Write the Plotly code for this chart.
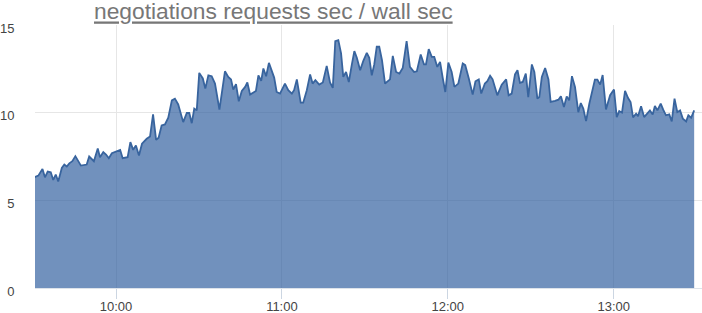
import pandas as pd
import plotly.graph_objects as go

# minutes after 09:30
minutes = [0.3, 1.9, 3.4, 4.3, 5.3, 6.4, 7.3, 8.2, 9.1, 10.4, 11.3, 12.2, 13.1, 14.2, 15.3, 16.4, 17.3,
           19.4, 20.3, 22.0, 23.4, 24.2, 25.4, 26.4, 27.4, 28.5, 30.0, 31.5, 32.4, 34.2, 35.2, 36.2,
           37.2, 38.3, 39.4, 41.1, 42.3, 43.4, 44.5, 45.4, 46.5, 47.7, 48.9, 50.2, 51.3, 52.5, 54.3,
           55.6, 56.5, 57.4, 58.3, 59.2, 60.1, 61.4, 62.3, 63.4, 64.6, 65.8, 67.4, 69.4, 70.6, 71.6,
           72.4, 73.4, 74.4, 75.5, 76.7, 77.5, 78.5, 79.7, 80.6, 81.5, 82.5, 83.3, 84.3, 85.3, 86.5,
           87.2, 88.1, 89.3, 91.1, 92.3, 93.6, 94.4, 95.4, 96.8, 97.7, 99.0, 100.2, 101.1, 102.1,
           103.5, 104.8, 106.2, 107.4, 108.4, 109.3, 110.4, 111.4, 112.2, 113.2, 114.2, 115.3, 116.2,
           117.1, 118.3, 119.4, 120.7, 121.6, 122.5, 123.4, 124.3, 125.2, 126.2, 127.3, 128.1, 129.1,
           130.1, 131.3, 132.5, 133.7, 135.1, 136.3, 137.8, 138.8, 140.2, 141.4, 142.1, 143.1, 144.2,
           145.1, 146.2, 147.2, 148.2, 149.1, 150.2, 151.4, 152.4, 153.8, 155.4, 156.3, 157.6, 159.0,
           160.0, 161.2, 162.1, 163.4, 164.3, 165.3, 166.2, 167.9, 169.5, 171.1, 172.0, 173.1, 174.3,
           175.2, 176.1, 177.1, 178.2, 179.1, 180.4, 181.3, 182.4, 183.1, 184.0, 185.2, 186.4, 187.2,
           188.8, 190.0, 190.9, 192.0, 193.0, 193.9, 194.9, 196.0, 197.2, 198.1, 199.0, 200.0, 201.2,
           202.4, 203.2, 204.1, 205.1, 206.0, 207.2, 208.7, 210.1, 211.1, 212.0, 213.0, 214.1, 215.2,
           216.1, 217.0, 218.1, 218.8, 219.9, 221.0, 221.9, 223.1, 224.1, 224.9, 225.8, 227.0, 227.9,
           228.9, 230.1, 231.0, 232.0, 233.0, 234.0, 235.0, 236.2, 237.0, 238.0, 239.1]

values = [6.31, 6.41, 6.79, 6.31, 6.64, 6.6, 6.16, 6.47, 6.08, 6.85, 7.04, 6.93, 7.11, 7.23, 7.52, 7.23, 6.98,
          7.04, 7.5, 7.23, 7.96, 7.46, 7.75, 7.61, 7.4, 7.69, 7.8, 7.88, 7.4, 7.46, 8.32, 7.88,
          8.13, 7.56, 8.23, 8.51, 8.64, 9.9, 8.45, 8.57, 9.27, 9.33, 9.71, 10.7, 10.8, 10.47, 9.46,
          9.98, 9.98, 9.4, 10.23, 10.13, 12.27, 11.95, 11.37, 12.13, 12.08, 11.66, 10.17, 12.36, 12.04, 11.89,
          11.32, 11.62, 10.65, 11.24, 11.47, 11.72, 11.03, 11.18, 11.24, 12.13, 11.81, 12.52, 12.08, 12.84, 12.36,
          12.0, 11.18, 11.09, 11.66, 11.28, 11.09, 11.28, 11.9, 10.57, 10.57, 11.28, 12.18, 11.66, 11.85,
          11.6, 11.72, 12.67, 11.72, 11.41, 14.08, 14.14, 13.38, 12.04, 12.32, 11.75, 12.75, 13.51,
          13.13, 12.42, 12.94, 13.41, 13.13, 12.13, 12.75, 13.76, 13.76, 12.99, 11.66, 11.79, 11.9,
          13.24, 12.32, 12.23, 12.55, 14.08, 12.61, 12.32, 12.36, 13.32, 12.75, 12.75, 13.62, 13.18,
          13.18, 12.61, 12.9, 11.95, 11.18, 12.86, 12.32, 11.47, 11.66, 12.8, 12.71, 11.95, 11.03,
          11.79, 11.9, 11.09, 11.66, 11.79, 12.1, 11.9, 10.99, 11.6, 11.9, 10.99, 11.09, 12.18,
          12.42, 11.7, 11.75, 12.23, 10.89, 12.75, 12.32, 10.8, 10.89, 12.04, 12.55, 11.89, 10.61,
          10.67, 10.74, 10.93, 10.32, 10.93, 10.7, 12.08, 11.47, 10.03, 10.55, 10.23, 9.52, 10.52,
          11.37, 11.89, 11.89, 11.6, 12.15, 10.18, 11.0, 11.32, 9.75, 10.09, 10.0, 11.24, 10.83,
          10.61, 9.73, 9.94, 9.8, 10.36, 9.75, 9.9, 10.13, 9.9, 10.38, 10.13, 10.52, 10.17,
          9.85, 9.9, 9.5, 10.8, 10.03, 10.13, 9.66, 9.5, 9.85, 9.71, 10.13]

y_ticks = [0, 5, 10, 15]
title_text = "negotiations requests sec / wall sec"

base = pd.Timestamp("2024-01-01 09:30:00")
times = base + pd.to_timedelta(minutes, unit="min")

fig = go.Figure()
fig.add_trace(go.Scatter(
    x=times, y=values, mode="lines",
    line=dict(color="rgb(56,100,158)", width=1.8),
    fill="tozeroy", fillcolor="rgba(40,88,155,0.66)",
    hoverinfo="skip", showlegend=False,
))

font_family = "Liberation Sans, Arial, sans-serif"
fig.update_layout(
    width=702, height=313,
    margin=dict(l=35, r=0, t=25, b=25),
    paper_bgcolor="white", plot_bgcolor="white",
    font=dict(family=font_family, size=13, color="#444"),
    title=dict(text="<u>" + title_text + "</u>", x=94 / 702, xanchor="left",
               yref="container", y=1 - 11.5 / 313, yanchor="middle",
               font=dict(family=font_family, size=22.8, color="#777")),
    xaxis=dict(
        type="date", automargin=False,
        range=[base + pd.Timedelta(seconds=42), base + pd.Timedelta(minutes=241, seconds=56)],
        tickformat="%H:%M", dtick=3600000, tick0="2024-01-01 10:00:00",
        showgrid=True, gridcolor="#e6e6e6", gridwidth=1,
        showline=True, linecolor="#dde3ea", linewidth=1,
        ticks="outside", ticklen=10, tickcolor="#ccd6e2", tickwidth=1,
        ticklabelstandoff=-4,
        zeroline=False, tickfont=dict(size=13, color="#444"),
    ),
    yaxis=dict(
        range=[0, 15], tickvals=y_ticks, automargin=False,
        showgrid=True, gridcolor="#e6e6e6", gridwidth=1,
        zeroline=False, showline=False,
        ticks="outside", ticklen=17, tickcolor="rgba(0,0,0,0)",
        ticklabelshift=3,
        tickfont=dict(size=13, color="#444"),
    ),
)

fig.write_html("out.html")
